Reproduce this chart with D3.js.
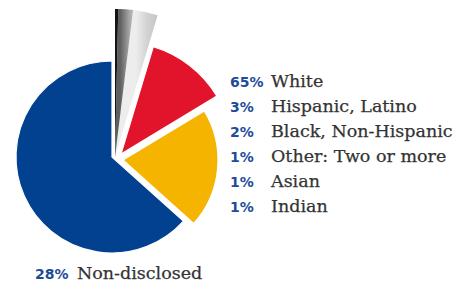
<!DOCTYPE html>
<html>
<head>
<meta charset="utf-8">
<script src="https://cdn.jsdelivr.net/npm/d3@7"></script>
<style>
  body { margin: 0; background: #fff; }
  .pct { font-family: "DejaVu Sans", sans-serif; font-weight: bold; fill: #1d4c9a; }
  .lbl { font-family: "DejaVu Serif", serif; fill: #333; stroke: #333; stroke-width: 0.25; }
</style>
</head>
<body>
<div id="chart"></div>
<script>
// Slices as drawn (share of the circle), clockwise from 12 o'clock
var sliceNames = ["black", "darkGrey", "lightGrey", "red", "yellow", "blue"];
var sliceShares = [0.35, 1.6, 2.7, 11.7, 20.3, 63.35];

// Legend text
var legendPct = ["65%", "3%", "2%", "1%", "1%", "1%"];
var legendLabels = ["White", "Hispanic, Latino", "Black, Non-Hispanic", "Other: Two or more", "Asian", "Indian"];
var footPct = ["28%"];
var footLabels = ["Non-disclosed"];

// Chart Params
var svgWidth = 468;
var svgHeight = 286;
var cx = 112, cy = 157;

// per slice look: fill, radius, how far it is pulled out, edge
var sliceStyle = {
  black:     { fill: "#141414", r: 148, dx: 3, dy: 0, edge: "none" },
  darkGrey:  { fill: "url(#gDark)", r: 148, dx: 3, dy: 0, edge: "none" },
  lightGrey: { fill: "url(#gLight)", r: 148, dx: 3, dy: 0, edge: "none" },
  red:       { fill: "#e1142b", r: 112, dx: 9, dy: -3, edge: "#fff" },
  yellow:    { fill: "#f4b400", r: 95, dx: 11, dy: 3, edge: "#fff" },
  blue:      { fill: "#02418f", r: 96, dx: 0, dy: 0, edge: "#fff" }
};

var svg = d3.select("#chart")
  .append("svg")
  .attr("width", svgWidth)
  .attr("height", svgHeight);

// metallic fills for the grey slices (coords are local to the pie group)
var defs = svg.append("defs");
var gDark = defs.append("linearGradient").attr("id", "gDark")
  .attr("gradientUnits", "userSpaceOnUse")
  .attr("x1", 5).attr("x2", 21).attr("y1", 0).attr("y2", 0);
gDark.append("stop").attr("offset", "0%").attr("stop-color", "#5e5e5e");
gDark.append("stop").attr("offset", "60%").attr("stop-color", "#a8a8a8");
gDark.append("stop").attr("offset", "100%").attr("stop-color", "#c6c6c6");
var gLight = defs.append("linearGradient").attr("id", "gLight")
  .attr("gradientUnits", "userSpaceOnUse")
  .attr("x1", 21).attr("x2", 46).attr("y1", 0).attr("y2", 0);
gLight.append("stop").attr("offset", "0%").attr("stop-color", "#ededed");
gLight.append("stop").attr("offset", "45%").attr("stop-color", "#d2d2d2");
gLight.append("stop").attr("offset", "100%").attr("stop-color", "#c0c0c0");

var pie = d3.pie().sort(null).value(function(d, i) { return sliceShares[i]; });
var arcs = pie(sliceNames);

var arc = d3.arc().innerRadius(0).outerRadius(function(d) { return sliceStyle[d.data].r; });

var pieGroup = svg.append("g")
  .attr("transform", `translate(${cx}, ${cy})`);

// draw the pie back to front so the big slice sits underneath
pieGroup.selectAll("path")
  .data(arcs.slice().reverse())
  .enter()
  .append("path")
  .attr("transform", function(d) {
    var s = sliceStyle[d.data];
    return `translate(${s.dx}, ${s.dy})`;
  })
  .attr("d", arc)
  .attr("fill", function(d) { return sliceStyle[d.data].fill; })
  .attr("stroke", function(d) { return sliceStyle[d.data].edge; })
  .attr("stroke-width", 1.2)
  .attr("stroke-linejoin", "round");

// legend on the right
var legend = svg.append("g");
var rowY = d3.scaleLinear().domain([0, legendLabels.length - 1]).range([87, 212]);

legend.selectAll("text.pct")
  .data(legendPct)
  .enter()
  .append("text")
  .attr("class", "pct")
  .attr("x", 230)
  .attr("y", (d, i) => rowY(i))
  .attr("font-size", 14)
  .text(d => d);

legend.selectAll("text.lbl")
  .data(legendLabels)
  .enter()
  .append("text")
  .attr("class", "lbl")
  .attr("x", 271)
  .attr("y", (d, i) => rowY(i))
  .attr("font-size", 17.5)
  .text(d => d);

// caption under the pie
svg.selectAll("text.foot")
  .data(footPct)
  .enter()
  .append("text")
  .attr("class", "pct")
  .attr("x", 35)
  .attr("y", 279)
  .attr("font-size", 14)
  .text(d => d);

svg.selectAll("text.footlbl")
  .data(footLabels)
  .enter()
  .append("text")
  .attr("class", "lbl")
  .attr("x", 77)
  .attr("y", 279)
  .attr("font-size", 17.5)
  .text(d => d);
</script>
</body>
</html>
